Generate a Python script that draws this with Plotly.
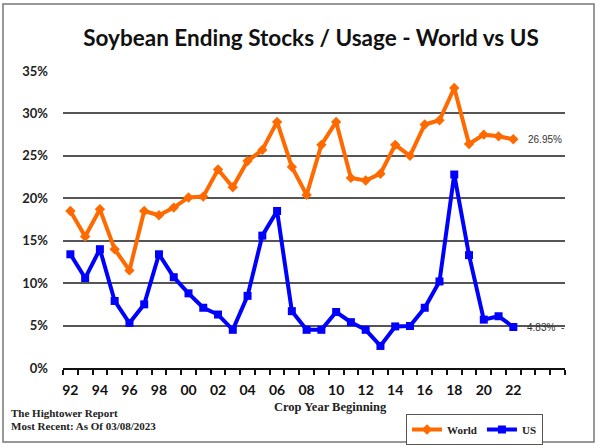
import plotly.graph_objects as go

years = list(range(1992, 2023))
world = [18.5, 15.5, 18.7, 14.0, 11.5, 18.5, 18.0, 18.9, 20.1, 20.2,
         23.4, 21.3, 24.4, 25.7, 29.0, 23.7, 20.4, 26.3, 29.0, 22.4,
         22.1, 22.9, 26.3, 25.0, 28.7, 29.2, 33.0, 26.4, 27.5, 27.3, 26.95]
us = [13.4, 10.6, 14.0, 7.9, 5.3, 7.5, 13.4, 10.7, 8.8, 7.1,
      6.3, 4.5, 8.5, 15.6, 18.5, 6.7, 4.5, 4.5, 6.6, 5.4,
      4.5, 2.6, 4.9, 4.95, 7.1, 10.2, 22.8, 13.3, 5.7, 6.1, 4.83]
tick_years = list(range(1992, 2023, 2))
tick_labels = [f"{y % 100:02d}" for y in tick_years]

ORANGE = "#FF6A00"
BLUE = "#0000FF"
SERIF = "Liberation Serif"

fig = go.Figure()
fig.add_trace(go.Scatter(x=years, y=world, name="World", mode="lines+markers",
                         line=dict(color=ORANGE, width=4),
                         marker=dict(symbol="diamond", size=8, color=ORANGE)))
fig.add_trace(go.Scatter(x=years, y=us, name="US", mode="lines+markers",
                         line=dict(color=BLUE, width=4),
                         marker=dict(symbol="square", size=8, color=BLUE)))

fig.add_annotation(x=2022.85, y=world[-1], xref="x", yref="y", text=f"{world[-1]:.2f}%",
                   showarrow=False, xanchor="left", font=dict(family="Liberation Sans", size=10, color="#333"))
fig.add_annotation(x=2022.8, y=us[-1], xref="x", yref="y", text=f"{us[-1]:.2f}%  -",
                   showarrow=False, xanchor="left", font=dict(family="Liberation Sans", size=10, color="#333"))

# outer border
fig.add_shape(type="rect", xref="paper", yref="paper",
              x0=(3 - 63) / 502, x1=(594 - 63) / 502,
              y0=(368 - 442) / 297, y1=(368 - 4) / 297,
              line=dict(color="#777", width=1.5), layer="below")

fig.add_annotation(xref="paper", yref="paper", x=(330 - 63) / 502, y=(368 - 416) / 297,
                   text="<b>Crop Year Beginning</b>", showarrow=False,
                   font=dict(family=SERIF, size=12.5, color="#222"))
fig.add_annotation(xref="paper", yref="paper", x=(9 - 63) / 502, y=(368 - 421) / 297,
                   xanchor="left", text="<b>The Hightower Report</b>", showarrow=False,
                   font=dict(family=SERIF, size=11, color="#222"))
fig.add_annotation(xref="paper", yref="paper", x=(9 - 63) / 502, y=(368 - 434) / 297,
                   xanchor="left", text="<b>Most Recent: As Of 03/08/2023</b>", showarrow=False,
                   font=dict(family=SERIF, size=11, color="#222"))

fig.update_layout(
    width=600, height=448,
    margin=dict(l=63, r=35, t=71, b=80, autoexpand=False),
    paper_bgcolor="white", plot_bgcolor="white",
    title=dict(text="<b>Soybean Ending Stocks / Usage - World vs US</b>",
               x=311 / 600, xanchor="center", y=1 - 38 / 448, yanchor="middle",
               font=dict(family="Lato", size=22.5, color="#111")),
    showlegend=True,
    legend=dict(orientation="h", xref="container", yref="container",
                x=406 / 600, y=1 - 414 / 448,
                xanchor="left", yanchor="top",
                bordercolor="#555", borderwidth=1, bgcolor="white",
                font=dict(family=SERIF, size=11, color="#222", weight="bold"),
                itemwidth=30, tracegroupgap=0),
    xaxis=dict(range=[1991.5, 2025.5], tickvals=tick_years, ticktext=tick_labels,
               ticks="", showgrid=False, zeroline=False,
               showline=True, linecolor="#111", linewidth=2,
               ticklabelstandoff=8,
               tickfont=dict(family="Lato", size=14, color="#111", weight="bold"),
               minor=dict(ticks="outside", tick0=1991.5, dtick=1, ticklen=5,
                          tickcolor="#111", tickwidth=1.5, showgrid=False)),
    yaxis=dict(range=[0, 35], dtick=5, ticksuffix="%", showgrid=True,
               gridcolor="#555", gridwidth=1.5, zeroline=False,
               showline=False, ticks="", ticklen=0, ticklabelstandoff=14,
               tickfont=dict(family="Lato", size=13, color="#222", weight="bold")),
)

fig.write_html("out.html", config={"displayModeBar": False},
               post_script="document.body.style.margin='0';document.body.style.overflow='hidden';")
